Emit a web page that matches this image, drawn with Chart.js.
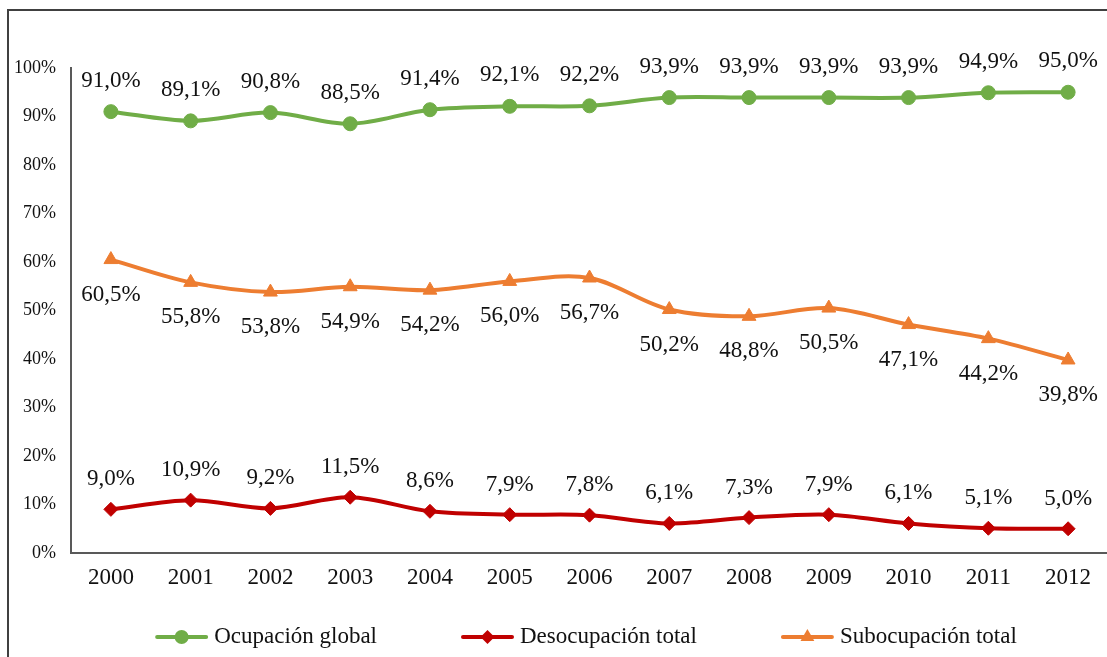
<!DOCTYPE html>
<html>
<head>
<meta charset="utf-8">
<script src="https://cdn.jsdelivr.net/npm/chart.js@4/dist/chart.umd.min.js"></script>
<style>
  html, body { margin: 0; padding: 0; background: #fff; overflow: hidden; width: 1107px; height: 657px; }
  #frame { position: absolute; left: 7px; top: 9px; width: 1158px; height: 720px; border: 2px solid #404040; box-sizing: border-box; }
  #wrap { position: absolute; left: 9px; top: 11px; width: 1154px; height: 646px; }
</style>
</head>
<body>
<div id="frame"></div>
<div id="wrap"><canvas id="chart"></canvas></div>
<script>
// Years on the horizontal axis
const years = ['2000', '2001', '2002', '2003', '2004', '2005', '2006', '2007', '2008', '2009', '2010', '2011', '2012'];

// Rates (%) per year
const ocupacionGlobal     = [91.0, 89.1, 90.8, 88.5, 91.4, 92.1, 92.2, 93.9, 93.9, 93.9, 93.9, 94.9, 95.0];
const desocupacionTotal   = [9.0, 10.9, 9.2, 11.5, 8.6, 7.9, 7.8, 6.1, 7.3, 7.9, 6.1, 5.1, 5.0];
const subocupacionTotal   = [60.5, 55.8, 53.8, 54.9, 54.2, 56.0, 56.7, 50.2, 48.8, 50.5, 47.1, 44.2, 39.8];

// Series names
const seriesNames = ['Ocupación global', 'Desocupación total', 'Subocupación total'];

// Y-axis range
const yMin = 0, yMax = 100, yStep = 10;

const SERIF = '"Liberation Serif", "Times New Roman", serif';
const GREEN = '#70AD47', RED = '#C00000', ORANGE = '#ED7D31';

const fmtPct = v => v.toFixed(1).replace('.', ',') + '%';

// Value labels next to every point; labelOffset moves them above (-) or below (+)
const valueLabels = {
  id: 'valueLabels',
  afterDatasetsDraw(chart) {
    const ctx = chart.ctx;
    ctx.save();
    ctx.font = '23px ' + SERIF;
    ctx.fillStyle = '#111';
    ctx.textAlign = 'center';
    ctx.textBaseline = 'middle';
    chart.data.datasets.forEach((ds, i) => {
      const meta = chart.getDatasetMeta(i);
      meta.data.forEach((pt, j) => {
        ctx.fillText(fmtPct(ds.data[j]), pt.x, pt.y + ds.labelOffset);
      });
    });
    ctx.restore();
  }
};

// Marker shapes matching the point styles of the series
function drawMarker(ctx, style, r, x, y) {
  ctx.beginPath();
  if (style === 'circle') {
    ctx.arc(x, y, r, 0, Math.PI * 2);
  } else if (style === 'rectRot') {
    ctx.moveTo(x - r, y); ctx.lineTo(x, y - r); ctx.lineTo(x + r, y); ctx.lineTo(x, y + r);
  } else if (style === 'triangle') {
    let a = 0;
    for (let k = 0; k < 3; k++) {
      const px = x + Math.sin(a) * r, py = y - Math.cos(a) * r;
      if (k === 0) ctx.moveTo(px, py); else ctx.lineTo(px, py);
      a += 2 * Math.PI / 3;
    }
  }
  ctx.closePath();
  ctx.fill();
}

// Legend along the bottom: line sample with marker, then the series name
const lineLegend = {
  id: 'lineLegend',
  afterDraw(chart) {
    const ctx = chart.ctx;
    const sample = 53, textGap = 6, itemGap = 84;
    const y = 626;
    ctx.save();
    ctx.font = '23px ' + SERIF;
    const items = chart.data.datasets.map(ds => ({ ds, w: ctx.measureText(ds.label).width }));
    const total = items.reduce((s, it) => s + sample + textGap + it.w, 0) + itemGap * (items.length - 1);
    let x = chart.width / 2 - total / 2;
    items.forEach(({ ds, w }) => {
      ctx.strokeStyle = ds.borderColor;
      ctx.lineWidth = 4;
      ctx.lineCap = 'round';
      ctx.beginPath();
      ctx.moveTo(x + 2, y); ctx.lineTo(x + sample - 2, y);
      ctx.stroke();
      ctx.fillStyle = ds.pointBackgroundColor;
      drawMarker(ctx, ds.pointStyle, ds.pointRadius, x + sample / 2, y);
      ctx.fillStyle = '#111';
      ctx.textAlign = 'left';
      ctx.textBaseline = 'middle';
      ctx.fillText(ds.label, x + sample + textGap, y);
      x += sample + textGap + w + itemGap;
    });
    ctx.restore();
  }
};

function series(label, data, color, style, radius, labelOffset) {
  return {
    label, data, labelOffset,
    borderColor: color,
    backgroundColor: color,
    pointBackgroundColor: color,
    pointBorderColor: color,
    pointStyle: style,
    pointRadius: radius,
    pointHoverRadius: radius,
    pointBorderWidth: 1,
    borderWidth: 4,
    tension: 0.33,
    fill: false
  };
}

new Chart(document.getElementById('chart'), {
  type: 'line',
  data: {
    labels: years,
    datasets: [
      series(seriesNames[0], ocupacionGlobal, GREEN, 'circle', 7, -31),
      series(seriesNames[1], desocupacionTotal, RED, 'rectRot', 7, -30),
      series(seriesNames[2], subocupacionTotal, ORANGE, 'triangle', 8, 35)
    ]
  },
  options: {
    responsive: true,
    maintainAspectRatio: false,
    animation: false,
    layout: { padding: { top: 57, right: 55, left: 0, bottom: 0 } },
    plugins: {
      legend: { display: false },
      tooltip: { enabled: false }
    },
    scales: {
      x: {
        offset: true,
        grid: { display: false, drawTicks: false },
        border: { display: true, color: '#595959', width: 2 },
        ticks: { color: '#111', font: { family: SERIF, size: 23 }, padding: 11, maxRotation: 0 },
        afterFit(scale) { scale.height = 104; }
      },
      y: {
        min: yMin, max: yMax,
        grid: { display: false, drawTicks: false },
        border: { display: true, color: '#595959', width: 2 },
        ticks: {
          stepSize: yStep,
          color: '#111',
          font: { family: SERIF, size: 18 },
          padding: 15,
          callback: v => v + '%'
        },
        afterFit(scale) { scale.width = 62; }
      }
    }
  },
  plugins: [valueLabels, lineLegend]
});
</script>
</body>
</html>
